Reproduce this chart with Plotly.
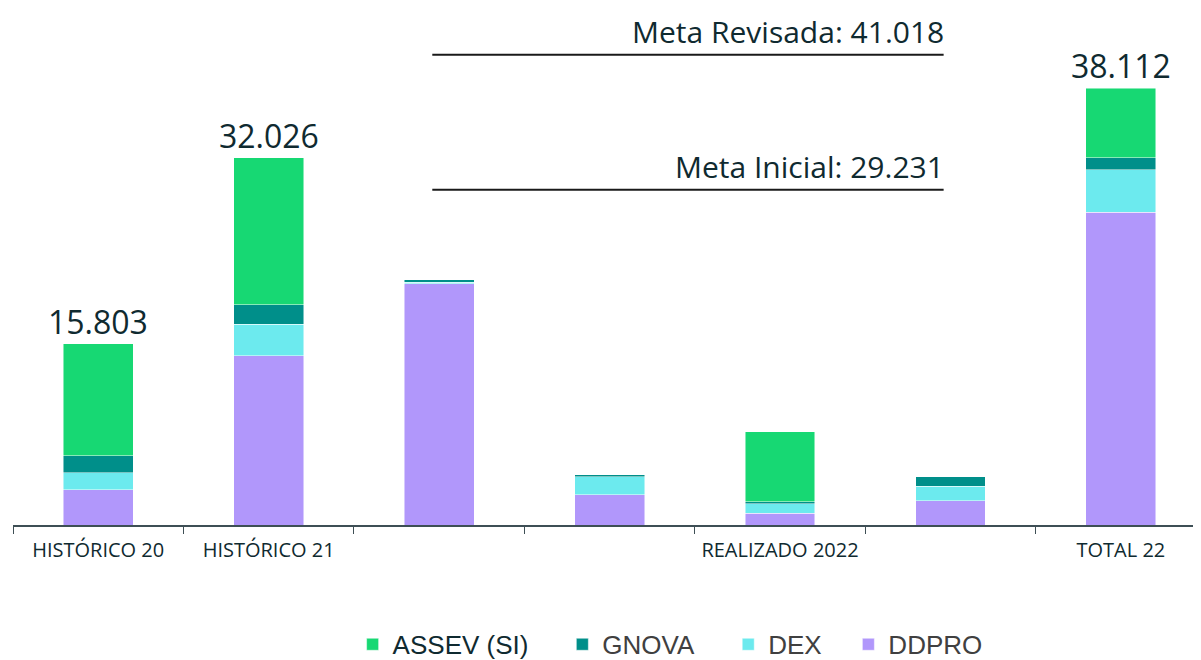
import plotly.graph_objects as go

categories = ["HISTÓRICO 20", "HISTÓRICO 21", " ", "  ", "REALIZADO 2022", "   ", "TOTAL 22"]
ddpro = [3096, 14783, 21036, 2660, 1029, 2137, 27281]
dex = [1456, 2704, 115, 1570, 846, 1247, 3689]
gnova = [1483, 1744, 235, 174, 174, 846, 1047]
assev = [9768, 12795, 0, 0, 6079, 0, 6095]
totals = [15803, 32026, None, None, None, None, 38112]

meta_names = ["Meta Revisada", "Meta Inicial"]
meta_values = [41018, 29231]

colors = {"ASSEV (SI)": "#17d873", "GNOVA": "#008f8a", "DEX": "#6ceaee", "DDPRO": "#b197fb"}
text_color = "#0f2a30"
font_main = "Open Sans"
NB = "\u00a0"
pad = {"ASSEV (SI)": 4, "GNOVA": 4, "DEX": 3, "DDPRO": 0}


def fmt(v):
    return f"{v:,}".replace(",", ".")


fig = go.Figure()
series = [("DDPRO", ddpro), ("DEX", dex), ("GNOVA", gnova), ("ASSEV (SI)", assev)]
for name, vals in series:
    if name == "ASSEV (SI)":
        label = name + NB * pad[name]
    else:
        label = f"<span style='color:#404040'>{name}</span>" + NB * pad[name]
    fig.add_trace(go.Bar(
        x=categories, y=vals, name=label,
        marker=dict(color=colors[name], line=dict(color="rgba(255,255,255,0.6)", width=0.8)),
        width=0.41, hoverinfo="skip",
    ))

# total labels
for c, t in zip(categories, totals):
    if t is not None:
        fig.add_annotation(x=c, y=t, text=fmt(t), showarrow=False, yanchor="bottom",
                           yshift=-1, font=dict(family=font_main, size=32, color=text_color))

# meta lines
for name, v in zip(meta_names, meta_values):
    fig.add_shape(type="line", xref="x", yref="y", x0=1.96, x1=4.96, y0=v, y1=v,
                  line=dict(color="#1a1a1a", width=2))
    fig.add_annotation(x=4.96, y=v, text=f"{name}: {fmt(v)}", showarrow=False,
                       xanchor="right", yanchor="bottom", yshift=1, xshift=2,
                       font=dict(family=font_main, size=30, color=text_color))

fig.update_layout(
    width=1193, height=652,
    barmode="stack",
    plot_bgcolor="white", paper_bgcolor="white",
    margin=dict(l=5, r=0, t=2, b=135),
    showlegend=True,
    legend=dict(orientation="h", traceorder="reversed",
                xref="container", yref="container",
                x=0.555, xanchor="center", y=0.024, yanchor="middle",
                font=dict(family="Liberation Sans, Arial", size=26, color=text_color),
                itemclick=False),
    xaxis=dict(type="category", categoryorder="array", categoryarray=categories,
               range=[-0.5, 6.47], showline=True, linecolor="#3e4f55", linewidth=1.5,
               ticks="outside", tickson="boundaries", ticklen=7, tickcolor="#3e4f55",
               ticklabelstandoff=6, automargin=False, tickangle=0,
               tickfont=dict(family=font_main, size=20, color=text_color),
               showgrid=False, zeroline=False),
    yaxis=dict(range=[0, 44915], visible=False, showgrid=False, zeroline=False),
)

fig.write_html("out.html")
